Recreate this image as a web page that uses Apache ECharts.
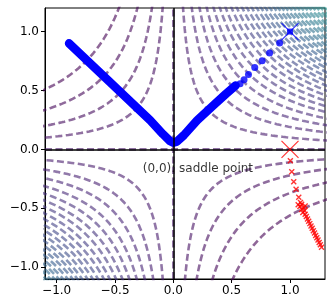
<!DOCTYPE html>
<html><head><meta charset="utf-8">
<script src="https://cdn.jsdelivr.net/npm/echarts@6/dist/echarts.min.js"></script>
<style>html,body{margin:0;padding:0;background:#fff}#c{width:332px;height:306px}</style>
</head><body><div id="c"></div>
<script>
// ---- data ----
const xTicks = [-1.0, -0.5, 0.0, 0.5, 1.0];
const yTicks = [-1.0, -0.5, 0.0, 0.5, 1.0];
// contour levels of f(x,y)=x*y (value of x*y on each dashed curve)
const negLevels = [-0.56, -0.37, -0.22, -0.11];
const zeroLevel = [0];
const posLevels = [0.10, 0.19, 0.27, 0.345, 0.415, 0.48, 0.54, 0.60, 0.655, 0.71, 0.76, 0.81, 0.86, 0.905, 0.95, 0.995, 1.04, 1.08, 1.12, 1.16, 1.20, 1.24, 1.28, 1.32, 1.36, 1.40, 1.44, 1.48, 1.52, 1.56];
// blue trajectory (dense part drawn as thick line, then separate dots)
const blueDense = [[-0.894, 0.90], [-0.55, 0.577], [-0.198, 0.246], [-0.09, 0.13], [-0.03, 0.072], [0.0, 0.057], [0.03, 0.066], [0.09, 0.12], [0.204, 0.246], [0.35, 0.38], [0.45, 0.47], [0.534, 0.542]];
const blueDots = [[0.572, 0.557], [0.606, 0.59], [0.644, 0.636], [0.698, 0.695], [0.761, 0.752], [0.825, 0.819], [0.911, 0.904]];
const blueEnd = [[1.0, 1.0]];
// red trajectory
const redStart = [[1.0, 0.0]];
const redPts = [[1.003, -0.096], [1.015, -0.189], [1.032, -0.274], [1.052, -0.339], [1.075, -0.407], [1.09, -0.45],
  [1.07, -0.47], [1.10, -0.465], [1.13, -0.48], [1.085, -0.485], [1.115, -0.495], [1.10, -0.51], [1.125, -0.52], [1.11, -0.535], [1.13, -0.55],
  [1.14, -0.57], [1.15, -0.59], [1.16, -0.61], [1.17, -0.63], [1.18, -0.65], [1.19, -0.67], [1.20, -0.69], [1.21, -0.71], [1.22, -0.73], [1.23, -0.75], [1.24, -0.77], [1.25, -0.79], [1.26, -0.81], [1.27, -0.83]];
const annotation = [[-0.262, -0.165, '(0,0): saddle point']];

// ---- styling ----
const X_MIN = -1.1, X_MAX = 1.3, Y_MIN = -1.1, Y_MAX = 1.2;
const viridis = [[68,1,84],[72,36,117],[65,68,135],[53,95,141],[42,120,142],[33,145,140]]; // t = 0..0.5
function cmap(t) {
  const p = t * (viridis.length - 1); const i = Math.min(Math.floor(p), viridis.length - 2); const f = p - i;
  const c = viridis[i].map((v, k) => Math.round(v + (viridis[i + 1][k] - v) * f));
  return 'rgba(' + c.join(',') + ',0.6)';
}
const allLevels = negLevels.concat(zeroLevel, posLevels);
const series = [];
const dashStyle = (col) => ({ color: col, width: 2.6, type: [7, 3.5], cap: 'butt' });

function hyperBranch(c, sx) {
  const sy = Math.sign(c) * sx;
  const xLim = sx > 0 ? X_MAX : -X_MIN;
  const yLim = sy > 0 ? Y_MAX : -Y_MIN;
  const a = Math.abs(c) / yLim * 0.98, b = xLim * 1.02;
  const pts = []; const N = 80;
  for (let k = 0; k <= N; k++) { const ax = a * Math.pow(b / a, k / N); pts.push([sx * ax, sy * Math.abs(c) / ax]); }
  return pts;
}
allLevels.forEach((c, i) => {
  const col = cmap(i / (allLevels.length - 1));
  if (c === 0) {
    series.push({ type: 'line', data: [[X_MIN, 0], [X_MAX, 0]], showSymbol: false, lineStyle: dashStyle(col), z: 1, silent: true });
    series.push({ type: 'line', data: [[0, Y_MIN], [0, Y_MAX]], showSymbol: false, lineStyle: dashStyle(col), z: 1, silent: true });
  } else {
    [1, -1].forEach(sx => series.push({ type: 'line', data: hyperBranch(c, sx), showSymbol: false, lineStyle: dashStyle(col), z: 1, silent: true }));
  }
});
series.push({ type: 'line', data: [], markLine: { silent: true, symbol: 'none', label: { show: false }, animation: false,
  lineStyle: { color: '#000', width: 1.5, type: 'solid' }, data: [{ xAxis: 0 }, { yAxis: 0 }] }, z: 3 });
const xPath = 'path://M0,0L10,10M10,0L0,10';
series.push({ type: 'line', data: blueDense, showSymbol: false, lineStyle: { color: '#0000ff', width: 8.5, cap: 'round', join: 'round' }, z: 4 });
series.push({ type: 'scatter', data: blueDots, symbol: 'circle', symbolSize: 7, itemStyle: { color: '#0000ff' }, z: 4 });
series.push({ type: 'scatter', data: blueEnd, symbol: 'rect', symbolSize: 6, itemStyle: { color: '#0000ff' }, z: 5 });
series.push({ type: 'scatter', data: blueEnd, symbol: xPath, symbolSize: 17, itemStyle: { color: 'none', borderColor: '#0000ff', borderWidth: 1.2 }, z: 5 });
series.push({ type: 'scatter', data: redPts, symbol: xPath, symbolSize: 5, itemStyle: { color: 'none', borderColor: '#ff0000', borderWidth: 1.4 }, z: 4 });
series.push({ type: 'scatter', data: redStart, symbol: xPath, symbolSize: 17, itemStyle: { color: 'none', borderColor: '#ff0000', borderWidth: 1.2 }, z: 5 });
series.push({ type: 'scatter', data: annotation, symbolSize: 0, z: 6,
  label: { show: true, position: 'right', distance: 0, formatter: p => p.data[2], color: '#000', fontSize: 12, fontFamily: 'DejaVu Sans' } });

const fmt = v => (Math.abs(v) < 1e-9 ? 0 : v).toFixed(1).replace('-', '\u2212');
const axisCommon = { type: 'value', splitLine: { show: false }, axisLine: { show: true, onZero: false, lineStyle: { color: '#000', width: 1 } } };
const chart = echarts.init(document.getElementById('c'), null, { renderer: 'canvas' });
chart.setOption({
  animation: false,
  grid: { left: 45, right: 7, top: 8, bottom: 27, show: true, borderColor: '#000', borderWidth: 1, backgroundColor: 'transparent' },
  xAxis: Object.assign({}, axisCommon, { min: X_MIN, max: X_MAX,
    axisTick: { show: true, customValues: xTicks, length: 4, lineStyle: { color: '#000' } },
    axisLabel: { customValues: xTicks, formatter: fmt, color: '#000', fontSize: 12, fontFamily: 'DejaVu Sans', margin: 6 } }),
  yAxis: Object.assign({}, axisCommon, { min: Y_MIN, max: Y_MAX,
    axisTick: { show: true, customValues: yTicks, length: 4, lineStyle: { color: '#000' } },
    axisLabel: { customValues: yTicks, formatter: fmt, color: '#000', fontSize: 12, fontFamily: 'DejaVu Sans', margin: 6 } }),
  series: series
});
</script></body></html>
